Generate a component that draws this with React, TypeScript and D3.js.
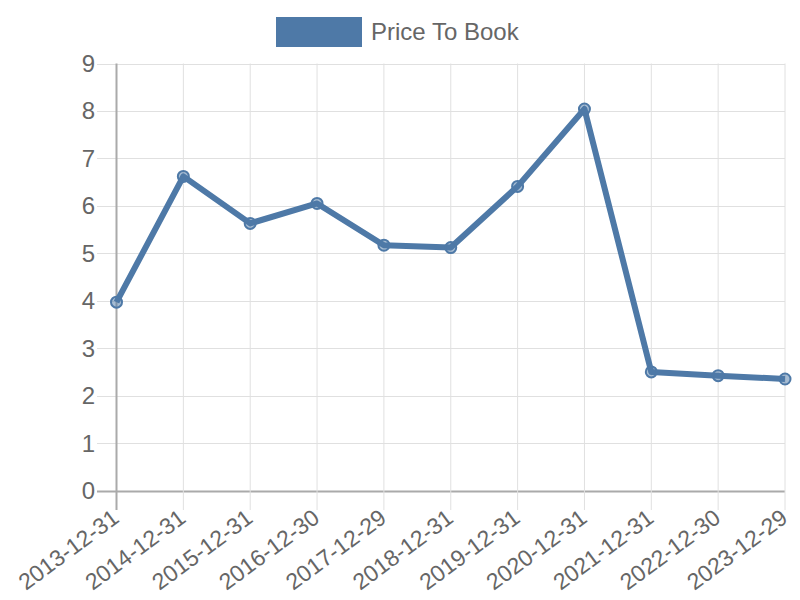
import React from "react";
import * as d3 from "d3";

const categories = ["2013-12-31","2014-12-31","2015-12-31","2016-12-30","2017-12-29","2018-12-31","2019-12-31","2020-12-31","2021-12-31","2022-12-30","2023-12-29"];
const values = [3.97, 6.62, 5.63, 6.05, 5.17, 5.12, 6.41, 8.04, 2.5, 2.42, 2.35];
const yTicks = [0,1,2,3,4,5,6,7,8,9];
const seriesName = "Price To Book";

export default function App() {
  const W = 800, H = 600;
  const left = 116.5, right = 785, top = 63.5, bottom = 490.5;
  const x = d3.scalePoint<string>().domain(categories).range([left, right]);
  const y = d3.scaleLinear().domain([0, 9]).range([bottom, top]);
  const line = d3.line<number>().x((_, i) => x(categories[i])!).y(d => y(d));
  const color = "#4e79a7";
  const font = "'Liberation Sans', Arial, sans-serif";
  return (
    <svg width={W} height={H} style={{ position: "absolute", left: 0, top: 0 }} fontFamily={font}>
      <rect x={276} y={17} width={86} height={30} fill={color} />
      <text x={371} y={40} fontSize={24} fill="#666">{seriesName}</text>
      {yTicks.map(t => (
        <g key={"y" + t}>
          <line x1={97} x2={right} y1={Math.round(y(t)) + 0.5} y2={Math.round(y(t)) + 0.5} stroke={t === 0 ? "#aaa" : "#e0e0e0"} strokeWidth={t === 0 ? 2 : 1} />
          <text x={95} y={y(t) + 8.5} fontSize={24} fill="#666" textAnchor="end">{t}</text>
        </g>
      ))}
      {categories.map((c, i) => (
        <g key={c}>
          <line x1={x(c)} x2={x(c)} y1={top} y2={510} stroke={i === 0 ? "#aaa" : "#e0e0e0"} strokeWidth={i === 0 ? 2 : 1} />
          <text transform={`translate(${x(c)! + 4},${521}) rotate(-36.5)`} fontSize={23} fill="#666" textAnchor="end">{c}</text>
        </g>
      ))}
      <path d={line(values)!} fill="none" stroke={color} strokeWidth={6} strokeLinejoin="round" />
      {values.map((v, i) => (
        <circle key={i} cx={x(categories[i])} cy={y(v)} r={5.5} fill="rgba(78,121,167,0.5)" stroke={color} strokeWidth={2} />
      ))}
    </svg>
  );
}
